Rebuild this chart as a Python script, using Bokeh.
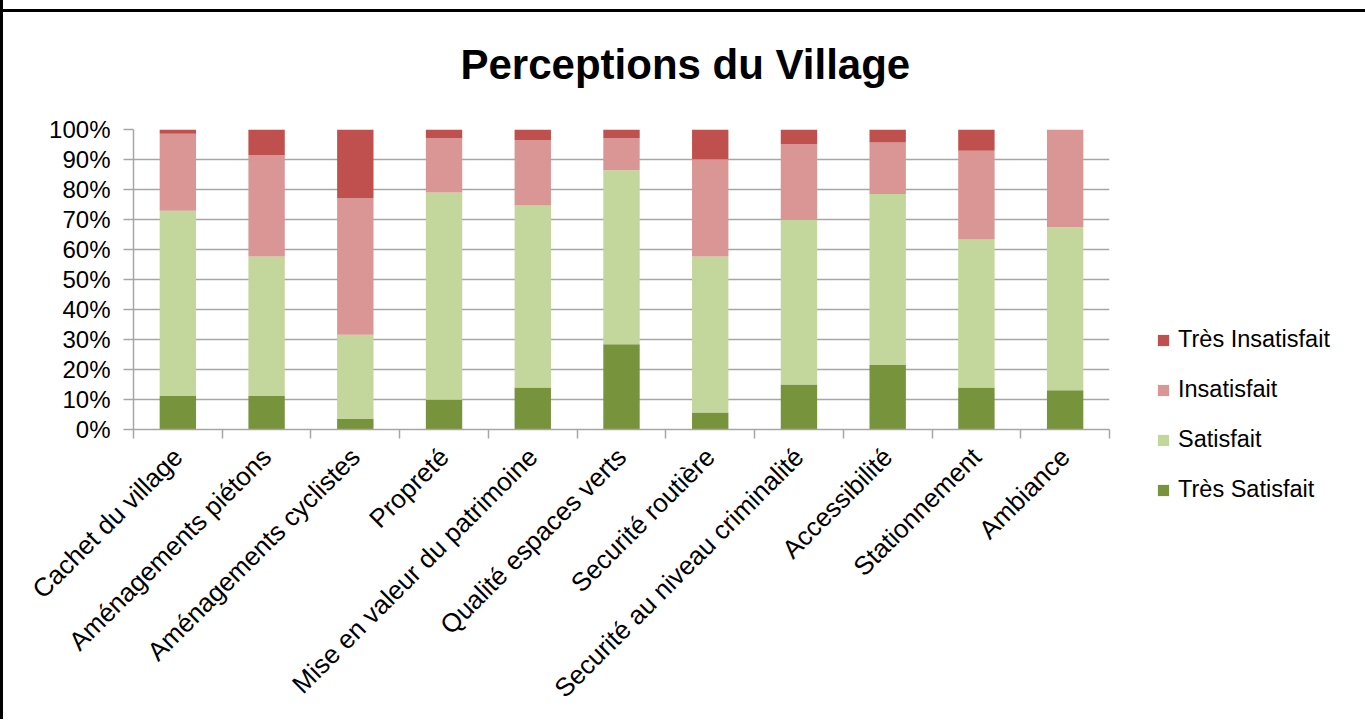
from bokeh.plotting import figure
from bokeh.models import (ColumnDataSource, FixedTicker, Legend, LegendItem,
                          Title, NumeralTickFormatter)
from bokeh.embed import file_html
from bokeh.resources import INLINE
from math import pi

categories = ["Cachet du village", "Aménagements piétons", "Aménagements cyclistes",
              "Propreté", "Mise en valeur du patrimoine", "Qualité espaces verts",
              "Securité routière", "Securité au niveau criminalité", "Accessibilité",
              "Stationnement", "Ambiance"]
tres_satisfait = [11.2, 11.2, 3.5, 9.9, 14.0, 28.4, 5.7, 15.0, 21.5, 14.0, 13.1]
satisfait = [61.7, 46.5, 28.1, 69.1, 60.7, 58.0, 52.0, 54.8, 57.0, 49.3, 54.3]
insatisfait = [25.7, 33.8, 45.5, 18.1, 21.8, 10.7, 32.4, 25.4, 17.2, 29.6, 32.6]
tres_insatisfait = [1.4, 8.5, 22.9, 2.9, 3.5, 2.9, 9.9, 4.8, 4.3, 7.1, 0.0]

series_names = ["Très Satisfait", "Satisfait", "Insatisfait", "Très Insatisfait"]
series_keys = ["ts", "s", "i", "ti"]
colors = ["#77933C", "#C3D69B", "#D99694", "#C0504D"]
y_ticks = [0, 10, 20, 30, 40, 50, 60, 70, 80, 90, 100]

n = len(categories)
xpos = [i + 0.5 for i in range(n)]
source = ColumnDataSource(data=dict(
    x=xpos, ts=[v / 100 for v in tres_satisfait], s=[v / 100 for v in satisfait],
    i=[v / 100 for v in insatisfait], ti=[v / 100 for v in tres_insatisfait]))

p = figure(frame_width=976, frame_height=300, x_range=(0, n), y_range=(0, 1),
           output_backend="svg", toolbar_location=None, tools="",
           min_border_left=130, min_border_right=200, min_border_top=129,
           min_border_bottom=290)
p.border_fill_alpha = 0
p.background_fill_color = "white"
p.styles = {"border-left": "3px solid black",
            "background": "linear-gradient(to bottom, transparent 9px, black 9px, "
                          "black 12px, transparent 12px)"}

renderers = p.vbar_stack(series_keys, x="x", width=0.41, source=source,
                         color=colors, line_color=None)

p.title = Title(text="Perceptions du Village", text_font="Liberation Sans",
                text_font_size="42px", text_font_style="bold", align="left",
                offset=327, standoff=80, text_color="black", vertical_align="top")

p.xgrid.visible = False
p.ygrid.grid_line_color = "#A6A6A6"
p.ygrid.grid_line_width = 1.5
p.ygrid.ticker = FixedTicker(ticks=[t / 100 for t in y_ticks])
p.outline_line_color = None

ya = p.yaxis[0]
ya.ticker = FixedTicker(ticks=[t / 100 for t in y_ticks])
ya.formatter = NumeralTickFormatter(format="0%")
ya.major_label_text_font = "Liberation Sans"
ya.major_label_text_font_size = "24px"
ya.major_label_text_color = "black"
ya.axis_line_color = "#A6A6A6"
ya.axis_line_width = 1.5
ya.major_tick_line_color = "#A6A6A6"
ya.major_tick_line_width = 1.5
ya.major_tick_out = 10
ya.major_tick_in = 0
ya.minor_tick_line_color = None
ya.major_label_standoff = 13

xa = p.xaxis[0]
xa.ticker = FixedTicker(ticks=xpos, minor_ticks=list(range(n + 1)))
xa.major_label_overrides = {x: c for x, c in zip(xpos, categories)}
xa.major_label_orientation = pi / 4
xa.major_label_text_font = "Liberation Sans"
xa.major_label_text_font_size = "26px"
xa.major_label_text_color = "black"
xa.major_tick_line_color = None
xa.minor_tick_line_color = "#A6A6A6"
xa.minor_tick_line_width = 1.5
xa.minor_tick_out = 9
xa.minor_tick_in = 0
xa.axis_line_color = "#A6A6A6"
xa.axis_line_width = 1.5
xa.major_label_standoff = 14

items = [LegendItem(label=series_names[k], renderers=[renderers[k]]) for k in [3, 2, 1, 0]]
legend = Legend(items=items, location=(47, -74), orientation="vertical",
                padding=0, margin=0, border_line_color=None, background_fill_alpha=0,
                glyph_width=14, glyph_height=14, label_height=26, spacing=23,
                label_standoff=8, label_text_font="Liberation Sans",
                label_text_font_size="23.5px", label_text_color="black")
p.add_layout(legend, "right")

open("out.html", "w").write(file_html(p, INLINE))
